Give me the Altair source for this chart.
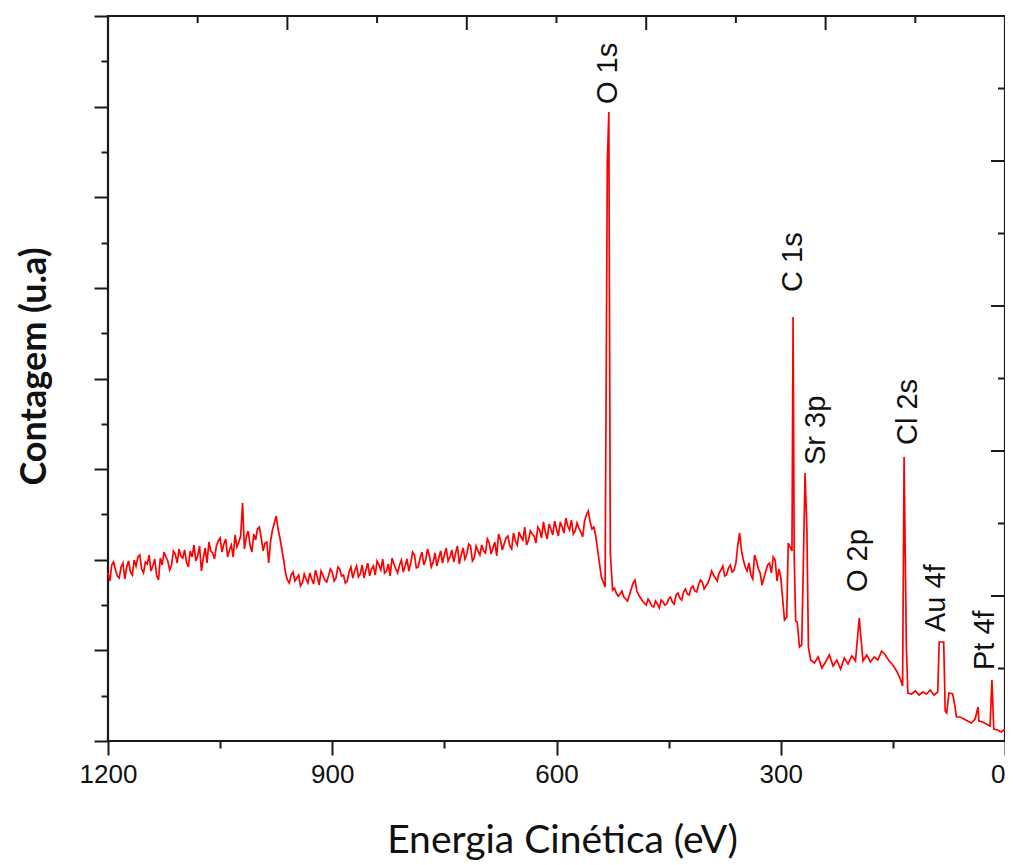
import altair as alt
import pandas as pd

# ---------------- data ----------------
energy_grid = list(range(1200, -1, -5))
intensity_grid = [
    168, 176, 171, 163, 178, 174, 169, 181, 184, 172,   # 1200-1155
    179, 186, 175, 166, 183, 189, 180, 176, 187, 192,   # 1150-1105
    183, 179, 190, 196, 185, 170, 193, 199, 188, 195,   # 1100-1055
    203, 197, 184, 196, 206, 199, 238, 204, 196, 207,   # 1050-1005
    212, 203, 198, 178, 211, 225, 203, 181, 161, 166,   # 1000-955
    160, 166, 158, 162, 168, 157, 164, 170, 161, 165,   # 950-905
    169, 163, 172, 166, 160, 174, 170, 164, 176, 171,   # 900-855
    165, 175, 180, 171, 168, 177, 183, 172, 176, 169,   # 850-805
    182, 178, 186, 174, 189, 181, 185, 179, 175, 190,   # 800-755
    186, 180, 191, 188, 177, 193, 187, 195, 183, 190,   # 750-705
    196, 188, 198, 193, 185, 201, 197, 205, 192, 200,   # 700-655
    209, 201, 196, 210, 205, 214, 203, 209, 217, 206,   # 650-605
    212, 219, 208, 215, 221, 210, 213, 204, 226, 219,   # 600-555
    214, 191, 164, 154, 629, 151, 148, 147, 144, 140,   # 550-505
    152, 161, 146, 140, 136, 139, 134, 137, 141, 136,   # 500-455
    142, 139, 146, 143, 149, 147, 153, 150, 156, 159,   # 450-405
    155, 163, 166, 160, 171, 165, 173, 169, 178, 208,   # 400-355
    181, 170, 166, 186, 172, 156, 170, 178, 184, 160,   # 350-305
    164, 121, 198, 190, 120, 94, 168, 211, 81, 78,      # 300-255
    84, 73, 79, 86, 75, 81, 72, 83, 77, 85,             # 250-205
    80, 123, 80, 86, 79, 84, 81, 90, 86, 80,            # 200-155
    76, 70, 62, 284, 48, 47, 50, 46, 49, 47,            # 150-105
    51, 46, 49, 99, 30, 48, 47, 24, 24, 22,             # 100-55
    20, 18, 22, 20, 19, 17, 15, 12, 11, 9,              # 50-5
    12,                                                 # 0
]
# in-between readings of the noisy background (1197.5 ... 547.5 eV)
half_energy_a = [1197.5 - 5 * i for i in range(131)]
half_intensity_a = [
    160, 179, 165, 174, 162, 180, 166, 175, 186, 168,
    177, 170, 182, 161, 176, 184, 171, 190, 178, 185,
    191, 174, 184, 180, 195, 183, 178, 190, 182, 200,
    189, 202, 191, 184, 194, 205, 192, 210, 189, 201,
    214, 190, 199, 200, 218, 212, 192, 168, 158, 169,
    163, 155, 167, 158, 162, 171, 156, 166, 159, 172,
    160, 174, 165, 158, 169, 163, 175, 167, 163, 178,
    172, 166, 176, 182, 170, 165, 177, 168, 181, 175,
    170, 189, 173, 183, 176, 192, 174, 188, 183, 178,
    193, 184, 179, 195, 186, 182, 197, 180, 195, 186,
    190, 202, 187, 199, 207, 191, 203, 195, 208, 196,
    204, 214, 201, 207, 198, 211, 219, 202, 212, 220,
    205, 214, 223, 211, 207, 218, 209, 220, 230, 212, 205,
]
# in-between readings after the O 1s peak (522.5 ... 302.5 eV)
half_energy_b = [522.5 - 5 * i for i in range(45)]
half_intensity_b = [
    153, 145, 150, 142, 146, 158, 150, 143, 138, 142,
    135, 140, 133, 139, 137, 144, 137, 148, 141, 152,
    146, 155, 149, 161, 152, 158, 170, 163, 168, 175,
    166, 176, 171, 196, 190, 174, 178, 162, 180, 168,
    163, 176, 168, 181, 172,
]
peak_energy = [532, 528, 292, 283.5, 282, 278, 272, 267.5, 263, 137, 132, 88, 82, 78, 67, 36, 17.5]
peak_intensity = [579, 188, 124, 424, 184, 119, 96, 268, 94, 55, 96, 99, 99, 28, 35, 34, 61]

label_text = ["O 1s", "C 1s", "Sr 3p", "O 2p", "Cl 2s", "Au 4f", "Pt 4f"]
label_energy = [530.8, 283.5, 252.7, 196.5, 129.7, 92.3, 26.7]
label_intensity = [637, 449, 276, 149, 296, 109, 71]

bottom_tick_values = list(range(0, 1201, 150))
top_tick_values = list(range(0, 1201, 120))
left_tick_values = [k * 725 / 16 for k in range(17)]
right_tick_values = [k * 72.5 for k in range(11)]

# ---------------- tables ----------------
spec_df = pd.DataFrame({
    "ev": energy_grid + half_energy_a + half_energy_b + peak_energy,
    "I": intensity_grid + half_intensity_a + half_intensity_b + peak_intensity,
}).sort_values("ev")
lab_df = pd.DataFrame({"ev": label_energy, "I": label_intensity, "t": label_text})
top_major = pd.DataFrame({"ev": [v for v in top_tick_values if v % 240 == 0]})
top_minor = pd.DataFrame({"ev": [v for v in top_tick_values if v % 240 != 0]})
right_major = pd.DataFrame({"I": [v for i, v in enumerate(right_tick_values) if i % 2 == 0]})
right_minor = pd.DataFrame({"I": [v for i, v in enumerate(right_tick_values) if i % 2 == 1]})

W, H = 897, 725
MAJ, MIN = 14, 7
INK = "#1a1a1a"
xscale = alt.Scale(domain=[0, 1200], reverse=True, nice=False, zero=False)
yscale = alt.Scale(domain=[0, 725], nice=False, zero=False)

line = alt.Chart(spec_df).mark_line(color="#FF0000", strokeWidth=1.7, interpolate="linear").encode(
    x=alt.X("ev:Q", scale=xscale,
            axis=alt.Axis(values=bottom_tick_values, format="d",
                          labelExpr="datum.value % 300 === 0 ? datum.label : ''",
                          tickSize={"condition": {"test": "datum.value % 300 === 0", "value": MAJ}, "value": MIN},
                          labelAlign={"condition": {"test": "datum.value === 0", "value": "right"}, "value": "center"},
                          tickWidth=2, tickColor=INK, domain=False, grid=False,
                          labelFont="Liberation Sans", labelFontSize=26, labelColor="#111",
                          labelPadding=6, labelFlush=False, labelOverlap=False,
                          title="Energia Cinética (eV)", titleFont="Lato", titleFontSize=39,
                          titleFontWeight="normal", titleColor="#111",
                          titleX=454, titleY=111, titleAlign="center", titleBaseline="alphabetic")),
    y=alt.Y("I:Q", scale=yscale,
            axis=alt.Axis(values=left_tick_values, labels=False,
                          tickSize={"condition": {"test": "round(datum.value / 45.3125) % 2 === 0", "value": MAJ}, "value": MIN},
                          tickWidth=2, tickColor=INK, domain=False, grid=False,
                          title="Contagem (u.a)", titleFont="Lato", titleFontSize=36,
                          titleFontWeight="bold", titleColor="#111", titleAngle=270,
                          titleX=-74, titleY=350, titleAlign="center", titleBaseline="middle")),
)

top_maj = alt.Chart(top_major).mark_rule(color=INK, strokeWidth=2).encode(
    x=alt.X("ev:Q", scale=xscale, axis=None), y=alt.value(0), y2=alt.value(MAJ))
top_min = alt.Chart(top_minor).mark_rule(color=INK, strokeWidth=2).encode(
    x=alt.X("ev:Q", scale=xscale, axis=None), y=alt.value(0), y2=alt.value(MIN))
right_maj = alt.Chart(right_major).mark_rule(color=INK, strokeWidth=2).encode(
    y=alt.Y("I:Q", scale=yscale, axis=None), x=alt.value(W - MAJ), x2=alt.value(W))
right_min = alt.Chart(right_minor).mark_rule(color=INK, strokeWidth=2).encode(
    y=alt.Y("I:Q", scale=yscale, axis=None), x=alt.value(W - MIN), x2=alt.value(W))

labels = alt.Chart(lab_df).mark_text(angle=270, align="left", baseline="middle",
                                     font="Liberation Sans", fontSize=29, color="#111").encode(
    x=alt.X("ev:Q", scale=xscale, axis=None),
    y=alt.Y("I:Q", scale=yscale, axis=None),
    text="t:N")

chart = alt.layer(line, top_maj, top_min, right_maj, right_min, labels).resolve_axis(
    x="independent", y="independent"
).properties(
    width=W, height=H,
    background="white",
    autosize=alt.AutoSizeParams(type="none"),
    padding={"left": 100, "top": 8, "right": 0, "bottom": 122},
).configure_view(stroke=INK, strokeWidth=2.2)

chart.save("out.html", embed_options={"renderer": "svg", "actions": False})
